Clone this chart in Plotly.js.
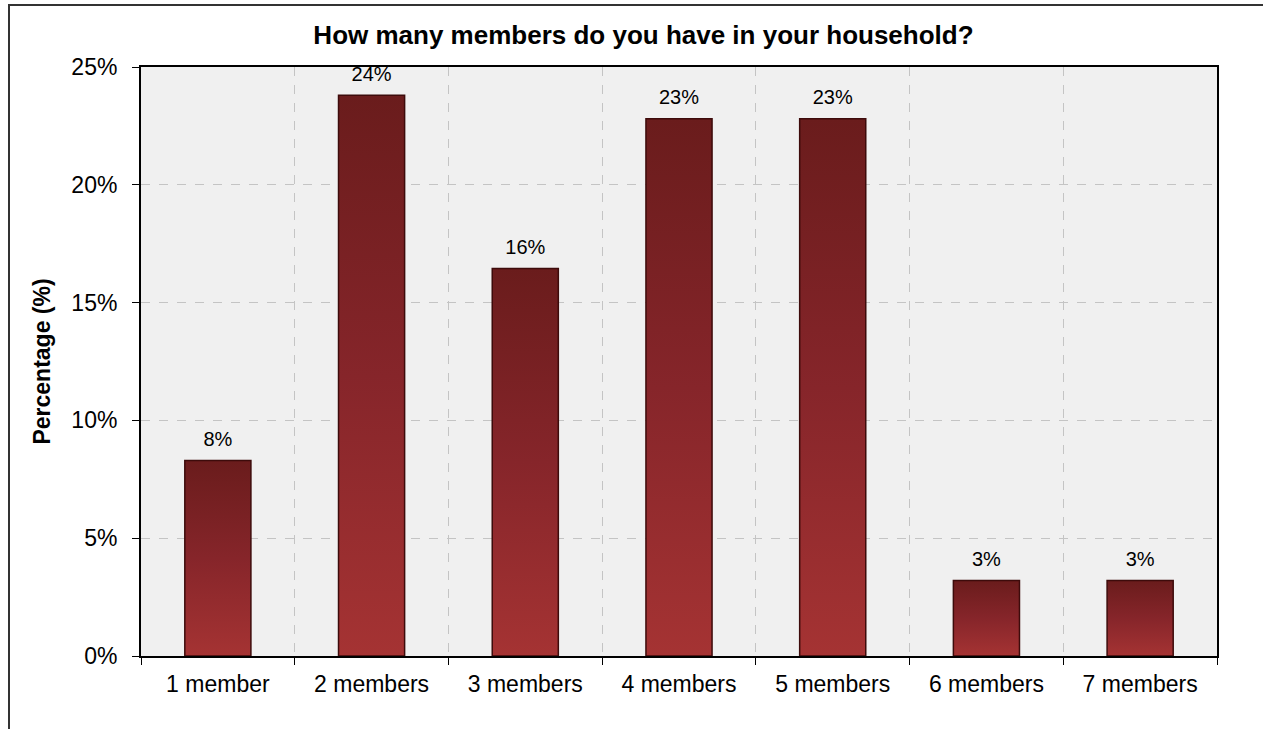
<!DOCTYPE html>
<html><head><meta charset="utf-8">
<script src="https://cdn.plot.ly/plotly-3.0.1.min.js"></script>
<style>
html,body{margin:0;padding:0;background:#fff;}
#wrap{position:relative;width:1263px;height:729px;overflow:hidden;}
#chart{position:absolute;left:0;top:0;width:1263px;height:729px;}
#frame{position:absolute;left:8px;top:4px;width:1300px;height:800px;border-left:2px solid #333;border-top:2px solid #333;pointer-events:none;}
</style></head>
<body><div id="wrap"><div id="chart"></div><div id="frame"></div></div>
<script>
const categories = ["1 member","2 members","3 members","4 members","5 members","6 members","7 members"];
const percentages = [8.3, 23.8, 16.45, 22.8, 22.8, 3.2, 3.2];
const yTickValues = [0,5,10,15,20,25];

const FAM = 'Liberation Sans, Arial, sans-serif';
const barTrace = {
  type:'bar', x:categories, y:percentages,
  width:0.43,
  marker:{color:'#8c2727', line:{color:'#3d0b0b', width:1.5}},
  hoverinfo:'none'
};
const labelTrace = {
  type:'scatter', mode:'markers+text', x:categories, y:percentages,
  marker:{size:14, opacity:0},
  text:percentages.map(v=>Math.round(v)+'%'),
  textposition:'top center', cliponaxis:false,
  textfont:{family:FAM, size:20, color:'#000'},
  hoverinfo:'none'
};
const font = {family:FAM, size:23, color:'#000'};
const layout = {
  width:1263, height:729,
  margin:{l:141, r:46, t:67, b:73},
  paper_bgcolor:'rgba(0,0,0,0)', plot_bgcolor:'#f0f0f0',
  font:font, showlegend:false,
  title:{text:'<b>How many members do you have in your household?</b>', x:0.467, xref:'paper', xanchor:'center', y:1, yref:'container', yanchor:'top', pad:{t:26}, font:{family:FAM, size:26, color:'#000'}},
  xaxis:{type:'category', tickson:'boundaries', ticks:'outside', ticklen:7, tickcolor:'#000', tickwidth:1,
    ticklabelstandoff:6,
    showgrid:true, gridcolor:'#c4c4c4', griddash:'dash', gridwidth:1,
    showline:true, linecolor:'#000', linewidth:2, mirror:true, tickfont:font, zeroline:false},
  yaxis:{range:[0,25], tickvals:yTickValues, ticktext:yTickValues.map(v=>v+'%'), ticks:'outside', ticklen:7, tickcolor:'#000',
    ticklabelstandoff:10,
    showgrid:true, gridcolor:'#c4c4c4', griddash:'dash', gridwidth:1,
    showline:true, linecolor:'#000', linewidth:2, mirror:true, zeroline:false, tickfont:font,
    title:{text:'<b>Percentage (%)</b>', standoff:14, font:{family:FAM, size:23, color:'#000'}}}
};
Plotly.newPlot('chart',[barTrace, labelTrace],layout,{staticPlot:true}).then(gd=>{
  const svg = gd.querySelector('svg.main-svg');
  const ns='http://www.w3.org/2000/svg';
  let defs = svg.querySelector('defs');
  const lg = document.createElementNS(ns,'linearGradient');
  lg.setAttribute('id','barGradV'); lg.setAttribute('x1','0'); lg.setAttribute('y1','0'); lg.setAttribute('x2','0'); lg.setAttribute('y2','1');
  [['0','#6a1c1c'],['0.5','#86252a'],['1','#a53333']].forEach(([o,c])=>{const s=document.createElementNS(ns,'stop');s.setAttribute('offset',o);s.setAttribute('stop-color',c);lg.appendChild(s);});
  defs.appendChild(lg);
  gd.querySelectorAll('.bars .point path').forEach(p=>{p.style.fill='url(#barGradV)';});
});
</script></body></html>
